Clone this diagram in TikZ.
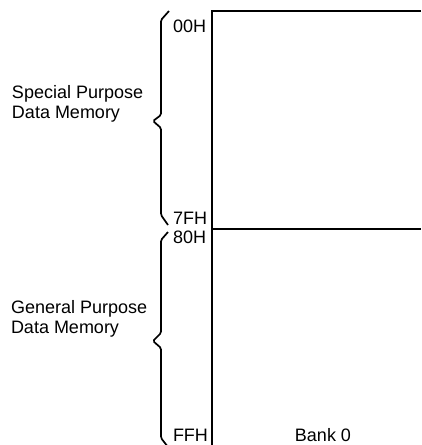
\documentclass[tikz,border=0pt]{standalone}
\usepackage{fontspec}
\setmainfont{Liberation Sans}
\usepackage{tikz}
\usetikzlibrary{calc}

\begin{document}
\begin{tikzpicture}[x=1pt,y=-1pt,line width=2pt,
    addr/.style={anchor=base west,inner sep=0pt,font=\fontsize{18}{20}\selectfont},
    memtxt/.style={anchor=base west,align=left,inner sep=0pt,font=\fontsize{18}{20}\selectfont},
    brc/.style={line width=1.7pt,rounded corners=1.5pt}]
  \useasboundingbox (0,0) rectangle (421,445);
  % bank frame
  \coordinate (tl) at (212,11);
  \coordinate (tr) at (421,11);
  \coordinate (ml) at (212,229);
  \coordinate (mr) at (421,229);
  \coordinate (bl) at (212,446);
  \draw (tr) -- (tl) -- (bl);
  \draw (ml) -- (mr);
  % addresses
  \node[addr] (a00) at (172,32) {00H};
  \node[addr] (a7f) at (172,224) {7FH};
  \node[addr] (a80) at (172,243) {80H};
  \node[addr] (aff) at (172,441) {FFH};
  \node[addr,anchor=base] (bank) at (323,441) {Bank 0};
  % braces
  \draw[brc] (169,11) -- (161,20) -- (161,115) -- (153,121) -- (161,128) -- (161,215) -- (168,225);
  \draw[brc] (168,232) -- (161,240) -- (161,333) -- (153,341) -- (161,348) -- (161,438) -- (168,447);
  % memory areas
  \node[memtxt] (spdm) at (11,118) {Special Purpose\\Data Memory};
  \node[memtxt] (gpdm) at (10,333) {General Purpose\\Data Memory};
\end{tikzpicture}
\end{document}
